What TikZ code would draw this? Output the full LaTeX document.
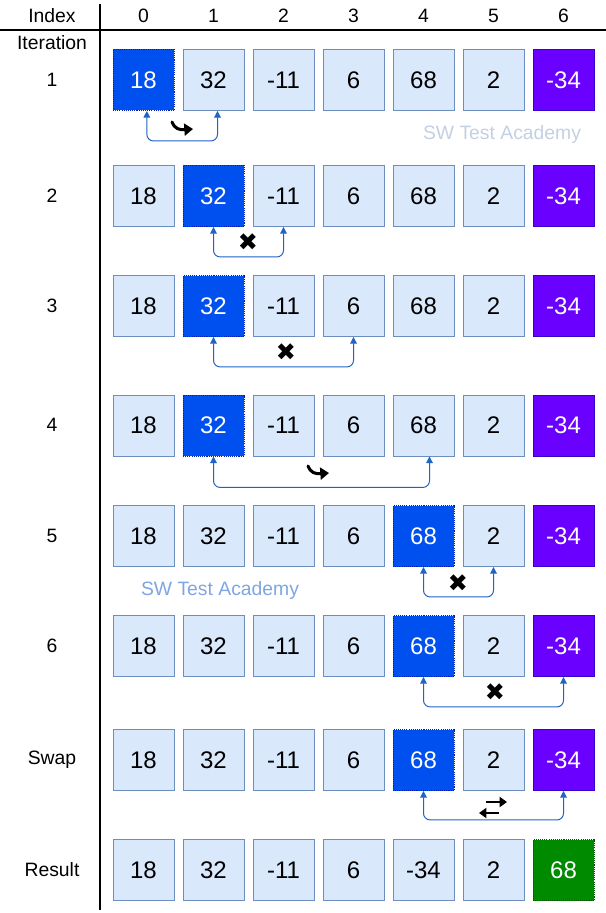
\documentclass[tikz,border=0pt]{standalone}
\usepackage{fontspec}
\setmainfont{Liberation Sans}
\newfontfamily\symfont{DejaVu Sans}
\usetikzlibrary{arrows.meta}
\definecolor{lfill}{HTML}{DAE8FC}
\definecolor{lstroke}{HTML}{6C8EBF}
\definecolor{bfill}{HTML}{0050EF}
\definecolor{bstroke}{HTML}{001DBC}
\definecolor{pfill}{HTML}{6A00FF}
\definecolor{pstroke}{HTML}{3700CC}
\definecolor{gfill}{HTML}{008A00}
\definecolor{gstroke}{HTML}{005700}
\definecolor{conncol}{HTML}{1F63C6}
\definecolor{wm1}{HTML}{C3D0E3}
\definecolor{wm2}{HTML}{7EA6E0}
\tikzset{
  cell/.style={rectangle, minimum width=45.75pt, minimum height=45.75pt, inner sep=0pt, line width=0.7pt, font=\fontsize{18}{20}\selectfont},
  lb/.style={cell, fill=lfill, draw=lstroke},
  bb/.style={cell, fill=bfill, draw=bstroke, dash pattern=on 0.8pt off 0.8pt, text=white},
  pb/.style={cell, fill=pfill, draw=pstroke, text=white},
  gb/.style={cell, fill=gfill, draw=gstroke, dash pattern=on 0.8pt off 0.8pt, text=white},
  lab/.style={font=\fontsize{14.5}{17}\selectfont, inner sep=0pt},
  conn/.style={draw=conncol, line width=0.75pt, rounded corners=5pt, {Triangle[length=5pt,width=5pt]}-{Triangle[length=5pt,width=5pt]}},
  icon/.style={font=\symfont\fontsize{18}{20}\selectfont, inner sep=0pt},
  curvearrow/.style={line width=2.3pt, line cap=round, -{Triangle[length=6.5pt,width=9pt]}},
  swaparrow/.style={line width=2pt, -{Triangle[length=5.5pt,width=7.5pt]}},
  wmark/.style={font=\fontsize{14.5}{17}\selectfont, inner sep=0pt}
}
\begin{document}
\begin{tikzpicture}[x=0.75pt, y=-0.75pt]
\useasboundingbox (0,0) rectangle (606,913);
% grid lines
\coordinate (hl) at (0,30);
\coordinate (hr) at (606,30);
\coordinate (vt) at (100,4);
\coordinate (vb) at (100,910);
\draw[line width=0.8pt] (hl) -- (hr);
\draw[line width=0.8pt] (vt) -- (vb);
% header
\node[lab] (hIndex) at (52,16) {Index};
\node[lab] (hIter) at (52,43) {Iteration};
\node[lab] (h0) at (143.5,16) {0};
\node[lab] (h1) at (213.5,16) {1};
\node[lab] (h2) at (283.5,16) {2};
\node[lab] (h3) at (353.5,16) {3};
\node[lab] (h4) at (423.5,16) {4};
\node[lab] (h5) at (493.5,16) {5};
\node[lab] (h6) at (563.5,16) {6};
% row labels
\node[lab] (l1) at (52,80) {1};
\node[lab] (l2) at (52,196) {2};
\node[lab] (l3) at (52,306) {3};
\node[lab] (l4) at (52,425) {4};
\node[lab] (l5) at (52,536) {5};
\node[lab] (l6) at (52,646) {6};
\node[lab] (l7) at (52,760) {Swap};
\node[lab] (l8) at (52,870) {Result};
% row 1
\node[bb] (a0) at (143.5,80) {18};
\node[lb] (a1) at (213.5,80) {32};
\node[lb] (a2) at (283.5,80) {-11};
\node[lb] (a3) at (353.5,80) {6};
\node[lb] (a4) at (423.5,80) {68};
\node[lb] (a5) at (493.5,80) {2};
\node[pb] (a6) at (563.5,80) {-34};
% row 2
\node[lb] (b0) at (143.5,196) {18};
\node[bb] (b1) at (213.5,196) {32};
\node[lb] (b2) at (283.5,196) {-11};
\node[lb] (b3) at (353.5,196) {6};
\node[lb] (b4) at (423.5,196) {68};
\node[lb] (b5) at (493.5,196) {2};
\node[pb] (b6) at (563.5,196) {-34};
% row 3
\node[lb] (c0) at (143.5,306) {18};
\node[bb] (c1) at (213.5,306) {32};
\node[lb] (c2) at (283.5,306) {-11};
\node[lb] (c3) at (353.5,306) {6};
\node[lb] (c4) at (423.5,306) {68};
\node[lb] (c5) at (493.5,306) {2};
\node[pb] (c6) at (563.5,306) {-34};
% row 4
\node[lb] (d0) at (143.5,425.5) {18};
\node[bb] (d1) at (213.5,425.5) {32};
\node[lb] (d2) at (283.5,425.5) {-11};
\node[lb] (d3) at (353.5,425.5) {6};
\node[lb] (d4) at (423.5,425.5) {68};
\node[lb] (d5) at (493.5,425.5) {2};
\node[pb] (d6) at (563.5,425.5) {-34};
% row 5
\node[lb] (e0) at (143.5,536) {18};
\node[lb] (e1) at (213.5,536) {32};
\node[lb] (e2) at (283.5,536) {-11};
\node[lb] (e3) at (353.5,536) {6};
\node[bb] (e4) at (423.5,536) {68};
\node[lb] (e5) at (493.5,536) {2};
\node[pb] (e6) at (563.5,536) {-34};
% row 6
\node[lb] (f0) at (143.5,646) {18};
\node[lb] (f1) at (213.5,646) {32};
\node[lb] (f2) at (283.5,646) {-11};
\node[lb] (f3) at (353.5,646) {6};
\node[bb] (f4) at (423.5,646) {68};
\node[lb] (f5) at (493.5,646) {2};
\node[pb] (f6) at (563.5,646) {-34};
% swap row
\node[lb] (g0) at (143.5,760) {18};
\node[lb] (g1) at (213.5,760) {32};
\node[lb] (g2) at (283.5,760) {-11};
\node[lb] (g3) at (353.5,760) {6};
\node[bb] (g4) at (423.5,760) {68};
\node[lb] (g5) at (493.5,760) {2};
\node[pb] (g6) at (563.5,760) {-34};
% result row
\node[lb] (k0) at (143.5,870) {18};
\node[lb] (k1) at (213.5,870) {32};
\node[lb] (k2) at (283.5,870) {-11};
\node[lb] (k3) at (353.5,870) {6};
\node[lb] (k4) at (423.5,870) {-34};
\node[lb] (k5) at (493.5,870) {2};
\node[gb] (k6) at (563.5,870) {68};
% connectors
\draw[conn] ([xshift=2.5pt]a0.south) -- ++(0,30) -| ([xshift=3pt]a1.south);
\draw[conn] (b1.south) -- ++(0,30) -| (b2.south);
\draw[conn] (c1.south) -- ++(0,30) -| (c3.south);
\draw[conn] (d1.south) -- ++(0,31) -| ([xshift=4.5pt]d4.south);
\draw[conn] (e4.south) -- ++(0,30) -| (e5.south);
\draw[conn] (f4.south) -- ++(0,30) -| (f6.south);
\draw[conn] (g4.south) -- ++(0,29) -| (g6.south);
% icons
\coordinate (i1) at (182,127);
\coordinate (i4) at (318,471);
\draw[curvearrow] ([shift={(-10,-5)}]i1) .. controls ([shift={(-7,2)}]i1) and ([shift={(-3,3)}]i1) .. ([shift={(11,2)}]i1);
\draw[curvearrow] ([shift={(-10,-5)}]i4) .. controls ([shift={(-7,2)}]i4) and ([shift={(-3,3)}]i4) .. ([shift={(11,2)}]i4);
\node[icon] (i2) at (248,242) {✖};
\node[icon] (i3) at (286,352) {✖};
\node[icon] (i5) at (458,583) {✖};
\node[icon] (i6) at (495,692) {✖};
\coordinate (i7) at (493,807);
\draw[swaparrow] ([shift={(-7,-5)}]i7) -- ([shift={(14,-5)}]i7);
\draw[swaparrow] ([shift={(6,6)}]i7) -- ([shift={(-14,6)}]i7);
% watermarks
\node[wmark, text=wm1] (w1) at (502,135) {SW Test Academy};
\node[wmark, text=wm2] (w2) at (220,590) {SW Test Academy};
\end{tikzpicture}
\end{document}
